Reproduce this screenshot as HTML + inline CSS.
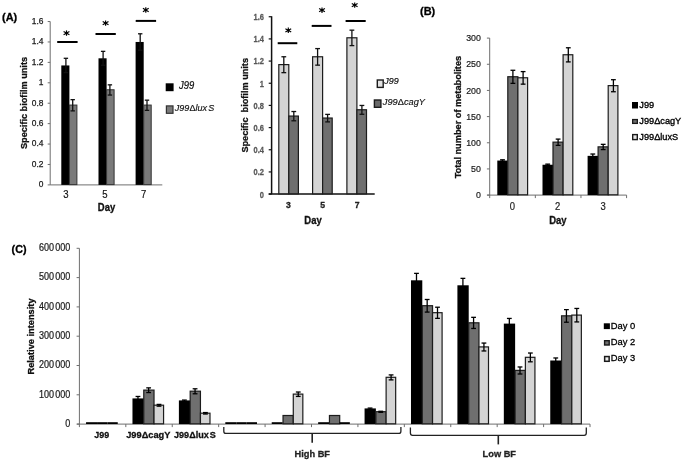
<!DOCTYPE html>
<html><head><meta charset="utf-8"><title>Figure</title>
<style>
html,body{margin:0;padding:0;background:#fff;}
body{width:685px;height:462px;overflow:hidden;}
svg{display:block;font-family:'Liberation Sans', sans-serif;filter:blur(0.4px);}
svg text{font-family:"Liberation Sans", sans-serif;}
</style></head><body>
<svg width="685" height="462" viewBox="0 0 685 462">
<rect x="0" y="0" width="685" height="462" fill="#fff"/>
<line x1="50.20" y1="21.54" x2="50.20" y2="184.90" stroke="#6e6e6e" stroke-width="1"/>
<line x1="50.20" y1="184.90" x2="162.30" y2="184.90" stroke="#6e6e6e" stroke-width="1"/>
<line x1="47.70" y1="184.90" x2="50.20" y2="184.90" stroke="#6e6e6e" stroke-width="1"/>
<text transform="translate(43.50,187.20) scale(1.0,1)" font-size="8.4" text-anchor="end" fill="#1a1a1a" stroke="#1a1a1a" stroke-width="0.25">0</text>
<line x1="47.70" y1="164.48" x2="50.20" y2="164.48" stroke="#6e6e6e" stroke-width="1"/>
<text transform="translate(43.50,166.78) scale(1.0,1)" font-size="8.4" text-anchor="end" fill="#1a1a1a" stroke="#1a1a1a" stroke-width="0.25">0.2</text>
<line x1="47.70" y1="144.06" x2="50.20" y2="144.06" stroke="#6e6e6e" stroke-width="1"/>
<text transform="translate(43.50,146.36) scale(1.0,1)" font-size="8.4" text-anchor="end" fill="#1a1a1a" stroke="#1a1a1a" stroke-width="0.25">0.4</text>
<line x1="47.70" y1="123.64" x2="50.20" y2="123.64" stroke="#6e6e6e" stroke-width="1"/>
<text transform="translate(43.50,125.94) scale(1.0,1)" font-size="8.4" text-anchor="end" fill="#1a1a1a" stroke="#1a1a1a" stroke-width="0.25">0.6</text>
<line x1="47.70" y1="103.22" x2="50.20" y2="103.22" stroke="#6e6e6e" stroke-width="1"/>
<text transform="translate(43.50,105.52) scale(1.0,1)" font-size="8.4" text-anchor="end" fill="#1a1a1a" stroke="#1a1a1a" stroke-width="0.25">0.8</text>
<line x1="47.70" y1="82.80" x2="50.20" y2="82.80" stroke="#6e6e6e" stroke-width="1"/>
<text transform="translate(43.50,85.10) scale(1.0,1)" font-size="8.4" text-anchor="end" fill="#1a1a1a" stroke="#1a1a1a" stroke-width="0.25">1</text>
<line x1="47.70" y1="62.38" x2="50.20" y2="62.38" stroke="#6e6e6e" stroke-width="1"/>
<text transform="translate(43.50,64.68) scale(1.0,1)" font-size="8.4" text-anchor="end" fill="#1a1a1a" stroke="#1a1a1a" stroke-width="0.25">1.2</text>
<line x1="47.70" y1="41.96" x2="50.20" y2="41.96" stroke="#6e6e6e" stroke-width="1"/>
<text transform="translate(43.50,44.26) scale(1.0,1)" font-size="8.4" text-anchor="end" fill="#1a1a1a" stroke="#1a1a1a" stroke-width="0.25">1.4</text>
<line x1="47.70" y1="21.54" x2="50.20" y2="21.54" stroke="#6e6e6e" stroke-width="1"/>
<text transform="translate(43.50,23.84) scale(1.0,1)" font-size="8.4" text-anchor="end" fill="#1a1a1a" stroke="#1a1a1a" stroke-width="0.25">1.6</text>
<rect x="61.30" y="65.44" width="8.10" height="119.46" fill="#000"/>
<rect x="69.40" y="105.06" width="7.50" height="79.54" fill="#7a7a7a" stroke="#333" stroke-width="1"/>
<line x1="65.90" y1="58.30" x2="65.90" y2="72.59" stroke="#111" stroke-width="1.3"/>
<line x1="63.70" y1="58.30" x2="68.10" y2="58.30" stroke="#111" stroke-width="1.3"/>
<line x1="63.70" y1="72.59" x2="68.10" y2="72.59" stroke="#111" stroke-width="1.3"/>
<line x1="72.70" y1="99.65" x2="72.70" y2="110.88" stroke="#111" stroke-width="1.3"/>
<line x1="70.50" y1="99.65" x2="74.90" y2="99.65" stroke="#111" stroke-width="1.3"/>
<line x1="70.50" y1="110.88" x2="74.90" y2="110.88" stroke="#111" stroke-width="1.3"/>
<rect x="98.50" y="58.30" width="8.10" height="126.60" fill="#000"/>
<rect x="106.60" y="89.75" width="7.50" height="94.85" fill="#7a7a7a" stroke="#333" stroke-width="1"/>
<line x1="103.10" y1="51.35" x2="103.10" y2="65.24" stroke="#111" stroke-width="1.3"/>
<line x1="100.90" y1="51.35" x2="105.30" y2="51.35" stroke="#111" stroke-width="1.3"/>
<line x1="100.90" y1="65.24" x2="105.30" y2="65.24" stroke="#111" stroke-width="1.3"/>
<line x1="109.90" y1="84.84" x2="109.90" y2="95.05" stroke="#111" stroke-width="1.3"/>
<line x1="107.70" y1="84.84" x2="112.10" y2="84.84" stroke="#111" stroke-width="1.3"/>
<line x1="107.70" y1="95.05" x2="112.10" y2="95.05" stroke="#111" stroke-width="1.3"/>
<rect x="135.60" y="41.96" width="8.10" height="142.94" fill="#000"/>
<rect x="143.70" y="105.06" width="7.50" height="79.54" fill="#7a7a7a" stroke="#333" stroke-width="1"/>
<line x1="140.20" y1="33.79" x2="140.20" y2="50.13" stroke="#111" stroke-width="1.3"/>
<line x1="138.00" y1="33.79" x2="142.40" y2="33.79" stroke="#111" stroke-width="1.3"/>
<line x1="138.00" y1="50.13" x2="142.40" y2="50.13" stroke="#111" stroke-width="1.3"/>
<line x1="147.00" y1="100.16" x2="147.00" y2="110.37" stroke="#111" stroke-width="1.3"/>
<line x1="144.80" y1="100.16" x2="149.20" y2="100.16" stroke="#111" stroke-width="1.3"/>
<line x1="144.80" y1="110.37" x2="149.20" y2="110.37" stroke="#111" stroke-width="1.3"/>
<line x1="57.20" y1="42.00" x2="77.60" y2="42.00" stroke="#000" stroke-width="2.0"/>
<line x1="66.50" y1="30.40" x2="66.50" y2="35.80" stroke="#000" stroke-width="1.15"/>
<line x1="63.60" y1="31.45" x2="69.40" y2="34.75" stroke="#000" stroke-width="1.15"/>
<line x1="63.60" y1="34.75" x2="69.40" y2="31.45" stroke="#000" stroke-width="1.15"/>
<circle cx="66.50" cy="33.10" r="1.2" fill="#000"/>
<line x1="95.50" y1="34.00" x2="115.80" y2="34.00" stroke="#000" stroke-width="2.0"/>
<line x1="105.60" y1="20.40" x2="105.60" y2="25.80" stroke="#000" stroke-width="1.15"/>
<line x1="102.70" y1="21.45" x2="108.50" y2="24.75" stroke="#000" stroke-width="1.15"/>
<line x1="102.70" y1="24.75" x2="108.50" y2="21.45" stroke="#000" stroke-width="1.15"/>
<circle cx="105.60" cy="23.10" r="1.2" fill="#000"/>
<line x1="135.70" y1="20.90" x2="156.10" y2="20.90" stroke="#000" stroke-width="2.0"/>
<line x1="145.80" y1="7.30" x2="145.80" y2="12.70" stroke="#000" stroke-width="1.15"/>
<line x1="142.90" y1="8.35" x2="148.70" y2="11.65" stroke="#000" stroke-width="1.15"/>
<line x1="142.90" y1="11.65" x2="148.70" y2="8.35" stroke="#000" stroke-width="1.15"/>
<circle cx="145.80" cy="10.00" r="1.2" fill="#000"/>
<text transform="translate(65.90,197.90) scale(0.94,1)" font-size="10.18" font-weight="normal" text-anchor="middle" fill="#111" stroke="#111" stroke-width="0.18" font-style="normal" >3</text>
<text transform="translate(104.80,197.90) scale(0.94,1)" font-size="10.18" font-weight="normal" text-anchor="middle" fill="#111" stroke="#111" stroke-width="0.18" font-style="normal" >5</text>
<text transform="translate(143.70,197.90) scale(0.94,1)" font-size="10.18" font-weight="normal" text-anchor="middle" fill="#111" stroke="#111" stroke-width="0.18" font-style="normal" >7</text>
<text transform="translate(106.50,211.30) scale(0.94,1)" font-size="10.07" font-weight="bold" text-anchor="middle" fill="#111" stroke="#111" stroke-width="0.3" font-style="normal" >Day</text>
<text transform="translate(27.20,103.00) rotate(-90) scale(0.94,1)" font-size="9.75" font-weight="bold" text-anchor="middle" fill="#111" stroke="#111" stroke-width="0.3">Specific biofilm units</text>
<text transform="translate(2.00,21.40) scale(0.94,1)" font-size="11.66" font-weight="bold" text-anchor="start" fill="#000" stroke="#000" stroke-width="0.3" font-style="normal" >(A)</text>
<rect x="165.70" y="83.30" width="7.90" height="7.90" fill="#000"/>
<text transform="translate(179.00,89.00) scale(0.94,1)" font-size="10.07" font-weight="normal" text-anchor="start" fill="#111" stroke="#111" stroke-width="0.18" font-style="italic" >J99</text>
<rect x="166.40" y="105.90" width="6.60" height="7.40" fill="#7a7a7a" stroke="#333" stroke-width="1.2"/>
<text transform="translate(174.8,110.7) scale(0.94,1)" font-size="9.65" fill="#111" stroke="#111" stroke-width="0.15" font-style="italic">J99<tspan font-style="normal">Δ</tspan>lux<tspan dx="1.2">S</tspan></text>
<line x1="271.60" y1="16.24" x2="271.60" y2="194.10" stroke="#111" stroke-width="1.5"/>
<line x1="268.70" y1="194.10" x2="374.70" y2="194.10" stroke="#111" stroke-width="1.5"/>
<line x1="268.70" y1="194.10" x2="271.60" y2="194.10" stroke="#111" stroke-width="1.2"/>
<text transform="translate(264.00,197.50) scale(0.87,1)" font-size="8.6" font-weight="bold" text-anchor="end" fill="#585858" stroke="#585858" stroke-width="0.25">0</text>
<line x1="268.70" y1="171.93" x2="271.60" y2="171.93" stroke="#111" stroke-width="1.2"/>
<text transform="translate(264.00,175.33) scale(0.87,1)" font-size="8.6" font-weight="bold" text-anchor="end" fill="#585858" stroke="#585858" stroke-width="0.25">0.2</text>
<line x1="268.70" y1="149.76" x2="271.60" y2="149.76" stroke="#111" stroke-width="1.2"/>
<text transform="translate(264.00,153.16) scale(0.87,1)" font-size="8.6" font-weight="bold" text-anchor="end" fill="#585858" stroke="#585858" stroke-width="0.25">0.4</text>
<line x1="268.70" y1="127.59" x2="271.60" y2="127.59" stroke="#111" stroke-width="1.2"/>
<text transform="translate(264.00,130.99) scale(0.87,1)" font-size="8.6" font-weight="bold" text-anchor="end" fill="#585858" stroke="#585858" stroke-width="0.25">0.6</text>
<line x1="268.70" y1="105.42" x2="271.60" y2="105.42" stroke="#111" stroke-width="1.2"/>
<text transform="translate(264.00,108.82) scale(0.87,1)" font-size="8.6" font-weight="bold" text-anchor="end" fill="#585858" stroke="#585858" stroke-width="0.25">0.8</text>
<line x1="268.70" y1="83.25" x2="271.60" y2="83.25" stroke="#111" stroke-width="1.2"/>
<text transform="translate(264.00,86.65) scale(0.87,1)" font-size="8.6" font-weight="bold" text-anchor="end" fill="#585858" stroke="#585858" stroke-width="0.25">1</text>
<line x1="268.70" y1="61.08" x2="271.60" y2="61.08" stroke="#111" stroke-width="1.2"/>
<text transform="translate(264.00,64.48) scale(0.87,1)" font-size="8.6" font-weight="bold" text-anchor="end" fill="#585858" stroke="#585858" stroke-width="0.25">1.2</text>
<line x1="268.70" y1="38.91" x2="271.60" y2="38.91" stroke="#111" stroke-width="1.2"/>
<text transform="translate(264.00,42.31) scale(0.87,1)" font-size="8.6" font-weight="bold" text-anchor="end" fill="#585858" stroke="#585858" stroke-width="0.25">1.4</text>
<line x1="268.70" y1="16.74" x2="271.60" y2="16.74" stroke="#111" stroke-width="1.2"/>
<text transform="translate(264.00,20.14) scale(0.87,1)" font-size="8.6" font-weight="bold" text-anchor="end" fill="#585858" stroke="#585858" stroke-width="0.25">1.6</text>
<rect x="278.80" y="64.61" width="10.00" height="129.19" fill="#d4d4d4" stroke="#1c1c1c" stroke-width="1.2"/>
<rect x="288.80" y="116.06" width="9.60" height="77.74" fill="#6f6f6f" stroke="#1c1c1c" stroke-width="1.2"/>
<line x1="283.80" y1="56.76" x2="283.80" y2="72.66" stroke="#111" stroke-width="1.3"/>
<line x1="281.40" y1="56.76" x2="286.20" y2="56.76" stroke="#111" stroke-width="1.3"/>
<line x1="281.40" y1="72.66" x2="286.20" y2="72.66" stroke="#111" stroke-width="1.3"/>
<line x1="293.80" y1="111.52" x2="293.80" y2="120.79" stroke="#111" stroke-width="1.3"/>
<line x1="291.40" y1="111.52" x2="296.20" y2="111.52" stroke="#111" stroke-width="1.3"/>
<line x1="291.40" y1="120.79" x2="296.20" y2="120.79" stroke="#111" stroke-width="1.3"/>
<rect x="312.60" y="56.77" width="10.00" height="137.03" fill="#d4d4d4" stroke="#1c1c1c" stroke-width="1.2"/>
<rect x="322.60" y="118.04" width="9.60" height="75.76" fill="#6f6f6f" stroke="#1c1c1c" stroke-width="1.2"/>
<line x1="317.60" y1="48.59" x2="317.60" y2="65.15" stroke="#111" stroke-width="1.3"/>
<line x1="315.20" y1="48.59" x2="320.00" y2="48.59" stroke="#111" stroke-width="1.3"/>
<line x1="315.20" y1="65.15" x2="320.00" y2="65.15" stroke="#111" stroke-width="1.3"/>
<line x1="327.60" y1="114.39" x2="327.60" y2="121.90" stroke="#111" stroke-width="1.3"/>
<line x1="325.20" y1="114.39" x2="330.00" y2="114.39" stroke="#111" stroke-width="1.3"/>
<line x1="325.20" y1="121.90" x2="330.00" y2="121.90" stroke="#111" stroke-width="1.3"/>
<rect x="346.90" y="37.78" width="10.00" height="156.02" fill="#d4d4d4" stroke="#1c1c1c" stroke-width="1.2"/>
<rect x="356.90" y="109.76" width="9.60" height="84.04" fill="#6f6f6f" stroke="#1c1c1c" stroke-width="1.2"/>
<line x1="351.90" y1="30.16" x2="351.90" y2="45.61" stroke="#111" stroke-width="1.3"/>
<line x1="349.50" y1="30.16" x2="354.30" y2="30.16" stroke="#111" stroke-width="1.3"/>
<line x1="349.50" y1="45.61" x2="354.30" y2="45.61" stroke="#111" stroke-width="1.3"/>
<line x1="361.90" y1="105.45" x2="361.90" y2="114.28" stroke="#111" stroke-width="1.3"/>
<line x1="359.50" y1="105.45" x2="364.30" y2="105.45" stroke="#111" stroke-width="1.3"/>
<line x1="359.50" y1="114.28" x2="364.30" y2="114.28" stroke="#111" stroke-width="1.3"/>
<line x1="277.70" y1="43.20" x2="297.30" y2="43.20" stroke="#000" stroke-width="2.0"/>
<line x1="288.30" y1="27.60" x2="288.30" y2="33.00" stroke="#000" stroke-width="1.15"/>
<line x1="285.40" y1="28.65" x2="291.20" y2="31.95" stroke="#000" stroke-width="1.15"/>
<line x1="285.40" y1="31.95" x2="291.20" y2="28.65" stroke="#000" stroke-width="1.15"/>
<circle cx="288.30" cy="30.30" r="1.2" fill="#000"/>
<line x1="311.70" y1="25.90" x2="331.50" y2="25.90" stroke="#000" stroke-width="2.0"/>
<line x1="322.00" y1="7.50" x2="322.00" y2="12.90" stroke="#000" stroke-width="1.15"/>
<line x1="319.10" y1="8.55" x2="324.90" y2="11.85" stroke="#000" stroke-width="1.15"/>
<line x1="319.10" y1="11.85" x2="324.90" y2="8.55" stroke="#000" stroke-width="1.15"/>
<circle cx="322.00" cy="10.20" r="1.2" fill="#000"/>
<line x1="345.60" y1="21.00" x2="365.70" y2="21.00" stroke="#000" stroke-width="2.0"/>
<line x1="354.70" y1="2.40" x2="354.70" y2="7.80" stroke="#000" stroke-width="1.15"/>
<line x1="351.80" y1="3.45" x2="357.60" y2="6.75" stroke="#000" stroke-width="1.15"/>
<line x1="351.80" y1="6.75" x2="357.60" y2="3.45" stroke="#000" stroke-width="1.15"/>
<circle cx="354.70" cy="5.10" r="1.2" fill="#000"/>
<text transform="translate(288.50,208.00) scale(0.94,1)" font-size="9.22" font-weight="bold" text-anchor="middle" fill="#222" stroke="#222" stroke-width="0.3" font-style="normal" >3</text>
<text transform="translate(322.70,208.00) scale(0.94,1)" font-size="9.22" font-weight="bold" text-anchor="middle" fill="#222" stroke="#222" stroke-width="0.3" font-style="normal" >5</text>
<text transform="translate(357.10,208.00) scale(0.94,1)" font-size="9.22" font-weight="bold" text-anchor="middle" fill="#222" stroke="#222" stroke-width="0.3" font-style="normal" >7</text>
<text transform="translate(313.00,223.50) scale(0.94,1)" font-size="10.07" font-weight="bold" text-anchor="middle" fill="#111" stroke="#111" stroke-width="0.3" font-style="normal" >Day</text>
<text transform="translate(248.30,105.30) rotate(-90) scale(0.94,1)" font-size="9.75" font-weight="bold" text-anchor="middle" fill="#111" stroke="#111" stroke-width="0.3">Specific&#160;&#160;biofilm units</text>
<rect x="377.30" y="80.00" width="5.90" height="7.40" fill="#e2e2e2" stroke="#1a1a1a" stroke-width="1.4"/>
<text transform="translate(384.30,84.20) scale(0.94,1)" font-size="9.54" font-weight="normal" text-anchor="start" fill="#111" stroke="#111" stroke-width="0.18" font-style="italic" >J99</text>
<rect x="374.40" y="100.00" width="6.50" height="7.30" fill="#6a6a6a" stroke="#1a1a1a" stroke-width="1.4"/>
<text transform="translate(382.8,105.1) scale(0.94,1)" font-size="9.86" fill="#111" stroke="#111" stroke-width="0.15" font-style="italic">J99<tspan font-style="normal">Δ</tspan>cagY</text>
<line x1="489.70" y1="38.10" x2="489.70" y2="198.10" stroke="#6e6e6e" stroke-width="1"/>
<line x1="487.20" y1="195.10" x2="626.59" y2="195.10" stroke="#6e6e6e" stroke-width="1"/>
<line x1="486.90" y1="195.10" x2="489.70" y2="195.10" stroke="#6e6e6e" stroke-width="1"/>
<text transform="translate(480.90,198.25) scale(0.89,1)" font-size="9.9" text-anchor="end" fill="#1a1a1a" stroke="#1a1a1a" stroke-width="0.22">0</text>
<line x1="486.90" y1="168.93" x2="489.70" y2="168.93" stroke="#6e6e6e" stroke-width="1"/>
<text transform="translate(480.90,172.08) scale(0.89,1)" font-size="9.9" text-anchor="end" fill="#1a1a1a" stroke="#1a1a1a" stroke-width="0.22">50</text>
<line x1="486.90" y1="142.77" x2="489.70" y2="142.77" stroke="#6e6e6e" stroke-width="1"/>
<text transform="translate(480.90,145.92) scale(0.89,1)" font-size="9.9" text-anchor="end" fill="#1a1a1a" stroke="#1a1a1a" stroke-width="0.22">100</text>
<line x1="486.90" y1="116.60" x2="489.70" y2="116.60" stroke="#6e6e6e" stroke-width="1"/>
<text transform="translate(480.90,119.75) scale(0.89,1)" font-size="9.9" text-anchor="end" fill="#1a1a1a" stroke="#1a1a1a" stroke-width="0.22">150</text>
<line x1="486.90" y1="90.43" x2="489.70" y2="90.43" stroke="#6e6e6e" stroke-width="1"/>
<text transform="translate(480.90,93.58) scale(0.89,1)" font-size="9.9" text-anchor="end" fill="#1a1a1a" stroke="#1a1a1a" stroke-width="0.22">200</text>
<line x1="486.90" y1="64.27" x2="489.70" y2="64.27" stroke="#6e6e6e" stroke-width="1"/>
<text transform="translate(480.90,67.42) scale(0.89,1)" font-size="9.9" text-anchor="end" fill="#1a1a1a" stroke="#1a1a1a" stroke-width="0.22">250</text>
<line x1="486.90" y1="38.10" x2="489.70" y2="38.10" stroke="#6e6e6e" stroke-width="1"/>
<text transform="translate(480.90,41.25) scale(0.89,1)" font-size="9.9" text-anchor="end" fill="#1a1a1a" stroke="#1a1a1a" stroke-width="0.22">300</text>
<line x1="535.33" y1="195.10" x2="535.33" y2="198.10" stroke="#6e6e6e" stroke-width="1"/>
<line x1="580.96" y1="195.10" x2="580.96" y2="198.10" stroke="#6e6e6e" stroke-width="1"/>
<line x1="626.59" y1="195.10" x2="626.59" y2="198.10" stroke="#6e6e6e" stroke-width="1"/>
<rect x="497.30" y="160.56" width="10.50" height="34.54" fill="#000"/>
<rect x="507.80" y="76.73" width="10.10" height="118.07" fill="#6f6f6f" stroke="#1c1c1c" stroke-width="1.2"/>
<rect x="517.90" y="77.77" width="9.70" height="117.03" fill="#d4d4d4" stroke="#1c1c1c" stroke-width="1.2"/>
<line x1="502.50" y1="159.78" x2="502.50" y2="161.34" stroke="#000" stroke-width="1.3"/>
<line x1="500.10" y1="159.78" x2="504.90" y2="159.78" stroke="#000" stroke-width="1.3"/>
<line x1="500.10" y1="161.34" x2="504.90" y2="161.34" stroke="#000" stroke-width="1.3"/>
<line x1="512.90" y1="70.28" x2="512.90" y2="83.37" stroke="#000" stroke-width="1.3"/>
<line x1="510.50" y1="70.28" x2="515.30" y2="70.28" stroke="#000" stroke-width="1.3"/>
<line x1="510.50" y1="83.37" x2="515.30" y2="83.37" stroke="#000" stroke-width="1.3"/>
<line x1="523.10" y1="71.59" x2="523.10" y2="84.15" stroke="#000" stroke-width="1.3"/>
<line x1="520.70" y1="71.59" x2="525.50" y2="71.59" stroke="#000" stroke-width="1.3"/>
<line x1="520.70" y1="84.15" x2="525.50" y2="84.15" stroke="#000" stroke-width="1.3"/>
<rect x="542.50" y="164.75" width="10.50" height="30.35" fill="#000"/>
<rect x="553.00" y="142.14" width="10.10" height="52.66" fill="#6f6f6f" stroke="#1c1c1c" stroke-width="1.2"/>
<rect x="563.10" y="54.75" width="9.70" height="140.05" fill="#d4d4d4" stroke="#1c1c1c" stroke-width="1.2"/>
<line x1="547.70" y1="164.12" x2="547.70" y2="165.37" stroke="#000" stroke-width="1.3"/>
<line x1="545.30" y1="164.12" x2="550.10" y2="164.12" stroke="#000" stroke-width="1.3"/>
<line x1="545.30" y1="165.37" x2="550.10" y2="165.37" stroke="#000" stroke-width="1.3"/>
<line x1="558.10" y1="139.10" x2="558.10" y2="145.38" stroke="#000" stroke-width="1.3"/>
<line x1="555.70" y1="139.10" x2="560.50" y2="139.10" stroke="#000" stroke-width="1.3"/>
<line x1="555.70" y1="145.38" x2="560.50" y2="145.38" stroke="#000" stroke-width="1.3"/>
<line x1="568.30" y1="47.78" x2="568.30" y2="61.91" stroke="#000" stroke-width="1.3"/>
<line x1="565.90" y1="47.78" x2="570.70" y2="47.78" stroke="#000" stroke-width="1.3"/>
<line x1="565.90" y1="61.91" x2="570.70" y2="61.91" stroke="#000" stroke-width="1.3"/>
<rect x="587.60" y="155.85" width="10.50" height="39.25" fill="#000"/>
<rect x="598.10" y="146.85" width="10.10" height="47.95" fill="#6f6f6f" stroke="#1c1c1c" stroke-width="1.2"/>
<rect x="608.20" y="85.62" width="9.70" height="109.18" fill="#d4d4d4" stroke="#1c1c1c" stroke-width="1.2"/>
<line x1="592.80" y1="154.02" x2="592.80" y2="157.68" stroke="#000" stroke-width="1.3"/>
<line x1="590.40" y1="154.02" x2="595.20" y2="154.02" stroke="#000" stroke-width="1.3"/>
<line x1="590.40" y1="157.68" x2="595.20" y2="157.68" stroke="#000" stroke-width="1.3"/>
<line x1="603.20" y1="144.34" x2="603.20" y2="149.57" stroke="#000" stroke-width="1.3"/>
<line x1="600.80" y1="144.34" x2="605.60" y2="144.34" stroke="#000" stroke-width="1.3"/>
<line x1="600.80" y1="149.57" x2="605.60" y2="149.57" stroke="#000" stroke-width="1.3"/>
<line x1="613.40" y1="79.70" x2="613.40" y2="91.74" stroke="#000" stroke-width="1.3"/>
<line x1="611.00" y1="79.70" x2="615.80" y2="79.70" stroke="#000" stroke-width="1.3"/>
<line x1="611.00" y1="91.74" x2="615.80" y2="91.74" stroke="#000" stroke-width="1.3"/>
<text transform="translate(512.30,210.40) scale(0.94,1)" font-size="10.07" font-weight="normal" text-anchor="middle" fill="#222" stroke="#222" stroke-width="0.18" font-style="normal" >0</text>
<text transform="translate(557.60,210.40) scale(0.94,1)" font-size="10.07" font-weight="normal" text-anchor="middle" fill="#222" stroke="#222" stroke-width="0.18" font-style="normal" >2</text>
<text transform="translate(603.20,210.40) scale(0.94,1)" font-size="10.07" font-weight="normal" text-anchor="middle" fill="#222" stroke="#222" stroke-width="0.18" font-style="normal" >3</text>
<text transform="translate(557.80,224.00) scale(0.94,1)" font-size="10.07" font-weight="bold" text-anchor="middle" fill="#111" stroke="#111" stroke-width="0.3" font-style="normal" >Day</text>
<text transform="translate(461.40,117.10) rotate(-90) scale(0.94,1)" font-size="9.80" font-weight="bold" text-anchor="middle" fill="#111" stroke="#111" stroke-width="0.3">Total number of metabolites</text>
<text transform="translate(420.00,14.60) scale(0.94,1)" font-size="11.66" font-weight="bold" text-anchor="start" fill="#000" stroke="#000" stroke-width="0.3" font-style="normal" >(B)</text>
<rect x="632.00" y="102.00" width="6.00" height="6.50" fill="#000"/>
<text transform="translate(639.30,107.80) scale(0.94,1)" font-size="9.80" font-weight="normal" text-anchor="start" fill="#000" stroke="#000"  font-style="normal" stroke-width="0.35">J99</text>
<rect x="632.65" y="119.55" width="4.70" height="3.85" fill="#6f6f6f" stroke="#1a1a1a" stroke-width="1.3"/>
<text transform="translate(639.30,124.00) scale(0.94,1)" font-size="9.80" font-weight="normal" text-anchor="start" fill="#000" stroke="#000"  font-style="normal" stroke-width="0.35">J99ΔcagY</text>
<rect x="632.70" y="134.60" width="4.60" height="5.00" fill="#e4e4e4" stroke="#1a1a1a" stroke-width="1.4"/>
<text transform="translate(639.30,139.80) scale(0.94,1)" font-size="9.80" font-weight="normal" text-anchor="start" fill="#000" stroke="#000"  font-style="normal" stroke-width="0.35">J99ΔluxS</text>
<line x1="79.40" y1="248.30" x2="79.40" y2="427.10" stroke="#6e6e6e" stroke-width="1"/>
<line x1="76.90" y1="424.10" x2="590.02" y2="424.10" stroke="#6e6e6e" stroke-width="1"/>
<line x1="76.60" y1="424.10" x2="79.40" y2="424.10" stroke="#6e6e6e" stroke-width="1"/>
<text transform="translate(70.40,426.95) scale(0.905,1)" font-size="10.0" text-anchor="end" fill="#1a1a1a" stroke="#1a1a1a" stroke-width="0.22">0</text>
<line x1="76.60" y1="394.80" x2="79.40" y2="394.80" stroke="#6e6e6e" stroke-width="1"/>
<text transform="translate(70.40,397.65) scale(0.905,1)" font-size="10.0" text-anchor="end" fill="#1a1a1a" stroke="#1a1a1a" stroke-width="0.22">100<tspan dx="1.4">000</tspan></text>
<line x1="76.60" y1="365.50" x2="79.40" y2="365.50" stroke="#6e6e6e" stroke-width="1"/>
<text transform="translate(70.40,368.35) scale(0.905,1)" font-size="10.0" text-anchor="end" fill="#1a1a1a" stroke="#1a1a1a" stroke-width="0.22">200<tspan dx="1.4">000</tspan></text>
<line x1="76.60" y1="336.20" x2="79.40" y2="336.20" stroke="#6e6e6e" stroke-width="1"/>
<text transform="translate(70.40,339.05) scale(0.905,1)" font-size="10.0" text-anchor="end" fill="#1a1a1a" stroke="#1a1a1a" stroke-width="0.22">300<tspan dx="1.4">000</tspan></text>
<line x1="76.60" y1="306.90" x2="79.40" y2="306.90" stroke="#6e6e6e" stroke-width="1"/>
<text transform="translate(70.40,309.75) scale(0.905,1)" font-size="10.0" text-anchor="end" fill="#1a1a1a" stroke="#1a1a1a" stroke-width="0.22">400<tspan dx="1.4">000</tspan></text>
<line x1="76.60" y1="277.60" x2="79.40" y2="277.60" stroke="#6e6e6e" stroke-width="1"/>
<text transform="translate(70.40,280.45) scale(0.905,1)" font-size="10.0" text-anchor="end" fill="#1a1a1a" stroke="#1a1a1a" stroke-width="0.22">500<tspan dx="1.4">000</tspan></text>
<line x1="76.60" y1="248.30" x2="79.40" y2="248.30" stroke="#6e6e6e" stroke-width="1"/>
<text transform="translate(70.40,251.15) scale(0.905,1)" font-size="10.0" text-anchor="end" fill="#1a1a1a" stroke="#1a1a1a" stroke-width="0.22">600<tspan dx="1.4">000</tspan></text>
<line x1="125.82" y1="424.10" x2="125.82" y2="427.10" stroke="#6e6e6e" stroke-width="1"/>
<line x1="172.24" y1="424.10" x2="172.24" y2="427.10" stroke="#6e6e6e" stroke-width="1"/>
<line x1="218.66" y1="424.10" x2="218.66" y2="427.10" stroke="#6e6e6e" stroke-width="1"/>
<line x1="265.08" y1="424.10" x2="265.08" y2="427.10" stroke="#6e6e6e" stroke-width="1"/>
<line x1="311.50" y1="424.10" x2="311.50" y2="427.10" stroke="#6e6e6e" stroke-width="1"/>
<line x1="357.92" y1="424.10" x2="357.92" y2="427.10" stroke="#6e6e6e" stroke-width="1"/>
<line x1="404.34" y1="424.10" x2="404.34" y2="427.10" stroke="#6e6e6e" stroke-width="1"/>
<line x1="450.76" y1="424.10" x2="450.76" y2="427.10" stroke="#6e6e6e" stroke-width="1"/>
<line x1="497.18" y1="424.10" x2="497.18" y2="427.10" stroke="#6e6e6e" stroke-width="1"/>
<line x1="543.60" y1="424.10" x2="543.60" y2="427.10" stroke="#6e6e6e" stroke-width="1"/>
<line x1="590.02" y1="424.10" x2="590.02" y2="427.10" stroke="#6e6e6e" stroke-width="1"/>
<line x1="86.05" y1="423.10" x2="97.05" y2="423.10" stroke="#000" stroke-width="1.8"/>
<line x1="97.05" y1="423.10" x2="107.40" y2="423.10" stroke="#000" stroke-width="1.8"/>
<line x1="107.40" y1="423.10" x2="117.75" y2="423.10" stroke="#000" stroke-width="1.8"/>
<rect x="132.47" y="398.41" width="11.30" height="25.69" fill="#000"/>
<line x1="137.97" y1="396.47" x2="137.97" y2="401.16" stroke="#000" stroke-width="1.3"/>
<line x1="135.57" y1="396.47" x2="140.37" y2="396.47" stroke="#000" stroke-width="1.3"/>
<line x1="135.57" y1="401.16" x2="140.37" y2="401.16" stroke="#000" stroke-width="1.3"/>
<rect x="143.77" y="390.10" width="10.25" height="33.70" fill="#6f6f6f" stroke="#1c1c1c" stroke-width="1.2"/>
<line x1="148.64" y1="387.86" x2="148.64" y2="392.54" stroke="#000" stroke-width="1.3"/>
<line x1="146.24" y1="387.86" x2="151.04" y2="387.86" stroke="#000" stroke-width="1.3"/>
<line x1="146.24" y1="392.54" x2="151.04" y2="392.54" stroke="#000" stroke-width="1.3"/>
<rect x="154.02" y="405.19" width="9.55" height="18.61" fill="#d4d4d4" stroke="#1c1c1c" stroke-width="1.2"/>
<line x1="159.00" y1="404.41" x2="159.00" y2="406.17" stroke="#000" stroke-width="1.3"/>
<line x1="156.59" y1="404.41" x2="161.40" y2="404.41" stroke="#000" stroke-width="1.3"/>
<line x1="156.59" y1="406.17" x2="161.40" y2="406.17" stroke="#000" stroke-width="1.3"/>
<rect x="178.89" y="400.41" width="11.30" height="23.69" fill="#000"/>
<line x1="184.39" y1="400.07" x2="184.39" y2="401.54" stroke="#000" stroke-width="1.3"/>
<line x1="181.99" y1="400.07" x2="186.79" y2="400.07" stroke="#000" stroke-width="1.3"/>
<line x1="181.99" y1="401.54" x2="186.79" y2="401.54" stroke="#000" stroke-width="1.3"/>
<rect x="190.19" y="391.18" width="10.25" height="32.62" fill="#6f6f6f" stroke="#1c1c1c" stroke-width="1.2"/>
<line x1="195.06" y1="388.79" x2="195.06" y2="393.77" stroke="#000" stroke-width="1.3"/>
<line x1="192.66" y1="388.79" x2="197.47" y2="388.79" stroke="#000" stroke-width="1.3"/>
<line x1="192.66" y1="393.77" x2="197.47" y2="393.77" stroke="#000" stroke-width="1.3"/>
<rect x="200.44" y="413.19" width="9.55" height="10.61" fill="#d4d4d4" stroke="#1c1c1c" stroke-width="1.2"/>
<line x1="205.42" y1="412.56" x2="205.42" y2="414.02" stroke="#000" stroke-width="1.3"/>
<line x1="203.02" y1="412.56" x2="207.82" y2="412.56" stroke="#000" stroke-width="1.3"/>
<line x1="203.02" y1="414.02" x2="207.82" y2="414.02" stroke="#000" stroke-width="1.3"/>
<line x1="225.31" y1="423.10" x2="236.31" y2="423.10" stroke="#000" stroke-width="1.8"/>
<line x1="236.31" y1="423.10" x2="246.66" y2="423.10" stroke="#000" stroke-width="1.8"/>
<line x1="246.66" y1="423.10" x2="257.01" y2="423.10" stroke="#000" stroke-width="1.8"/>
<line x1="271.73" y1="423.10" x2="282.73" y2="423.10" stroke="#000" stroke-width="1.8"/>
<rect x="283.03" y="415.50" width="10.25" height="8.30" fill="#6f6f6f" stroke="#1c1c1c" stroke-width="1.2"/>
<rect x="293.28" y="394.11" width="9.55" height="29.69" fill="#d4d4d4" stroke="#1c1c1c" stroke-width="1.2"/>
<line x1="298.25" y1="392.02" x2="298.25" y2="396.41" stroke="#000" stroke-width="1.3"/>
<line x1="295.86" y1="392.02" x2="300.65" y2="392.02" stroke="#000" stroke-width="1.3"/>
<line x1="295.86" y1="396.41" x2="300.65" y2="396.41" stroke="#000" stroke-width="1.3"/>
<line x1="318.15" y1="423.10" x2="329.15" y2="423.10" stroke="#000" stroke-width="1.8"/>
<rect x="329.45" y="415.50" width="10.25" height="8.30" fill="#6f6f6f" stroke="#1c1c1c" stroke-width="1.2"/>
<line x1="339.50" y1="423.10" x2="349.85" y2="423.10" stroke="#000" stroke-width="1.8"/>
<rect x="364.57" y="408.41" width="11.30" height="15.69" fill="#000"/>
<line x1="370.07" y1="408.07" x2="370.07" y2="409.54" stroke="#000" stroke-width="1.3"/>
<line x1="367.67" y1="408.07" x2="372.47" y2="408.07" stroke="#000" stroke-width="1.3"/>
<line x1="367.67" y1="409.54" x2="372.47" y2="409.54" stroke="#000" stroke-width="1.3"/>
<rect x="375.87" y="411.69" width="10.25" height="12.11" fill="#6f6f6f" stroke="#1c1c1c" stroke-width="1.2"/>
<line x1="380.74" y1="411.27" x2="380.74" y2="412.32" stroke="#000" stroke-width="1.3"/>
<line x1="378.34" y1="411.27" x2="383.14" y2="411.27" stroke="#000" stroke-width="1.3"/>
<line x1="378.34" y1="412.32" x2="383.14" y2="412.32" stroke="#000" stroke-width="1.3"/>
<rect x="386.12" y="377.30" width="9.55" height="46.50" fill="#d4d4d4" stroke="#1c1c1c" stroke-width="1.2"/>
<line x1="391.09" y1="374.91" x2="391.09" y2="379.89" stroke="#000" stroke-width="1.3"/>
<line x1="388.69" y1="374.91" x2="393.49" y2="374.91" stroke="#000" stroke-width="1.3"/>
<line x1="388.69" y1="379.89" x2="393.49" y2="379.89" stroke="#000" stroke-width="1.3"/>
<rect x="410.99" y="280.31" width="11.30" height="143.79" fill="#000"/>
<line x1="416.49" y1="273.38" x2="416.49" y2="288.03" stroke="#000" stroke-width="1.3"/>
<line x1="414.09" y1="273.38" x2="418.89" y2="273.38" stroke="#000" stroke-width="1.3"/>
<line x1="414.09" y1="288.03" x2="418.89" y2="288.03" stroke="#000" stroke-width="1.3"/>
<rect x="422.29" y="305.69" width="10.25" height="118.11" fill="#6f6f6f" stroke="#1c1c1c" stroke-width="1.2"/>
<line x1="427.17" y1="299.49" x2="427.17" y2="312.09" stroke="#000" stroke-width="1.3"/>
<line x1="424.77" y1="299.49" x2="429.56" y2="299.49" stroke="#000" stroke-width="1.3"/>
<line x1="424.77" y1="312.09" x2="429.56" y2="312.09" stroke="#000" stroke-width="1.3"/>
<rect x="432.54" y="312.69" width="9.55" height="111.11" fill="#d4d4d4" stroke="#1c1c1c" stroke-width="1.2"/>
<line x1="437.51" y1="307.22" x2="437.51" y2="318.36" stroke="#000" stroke-width="1.3"/>
<line x1="435.12" y1="307.22" x2="439.91" y2="307.22" stroke="#000" stroke-width="1.3"/>
<line x1="435.12" y1="318.36" x2="439.91" y2="318.36" stroke="#000" stroke-width="1.3"/>
<rect x="457.41" y="285.29" width="11.30" height="138.81" fill="#000"/>
<line x1="462.91" y1="278.36" x2="462.91" y2="293.01" stroke="#000" stroke-width="1.3"/>
<line x1="460.51" y1="278.36" x2="465.31" y2="278.36" stroke="#000" stroke-width="1.3"/>
<line x1="460.51" y1="293.01" x2="465.31" y2="293.01" stroke="#000" stroke-width="1.3"/>
<rect x="468.71" y="322.80" width="10.25" height="101.00" fill="#6f6f6f" stroke="#1c1c1c" stroke-width="1.2"/>
<line x1="473.58" y1="317.33" x2="473.58" y2="328.46" stroke="#000" stroke-width="1.3"/>
<line x1="471.19" y1="317.33" x2="475.98" y2="317.33" stroke="#000" stroke-width="1.3"/>
<line x1="471.19" y1="328.46" x2="475.98" y2="328.46" stroke="#000" stroke-width="1.3"/>
<rect x="478.96" y="346.91" width="9.55" height="76.89" fill="#d4d4d4" stroke="#1c1c1c" stroke-width="1.2"/>
<line x1="483.93" y1="343.06" x2="483.93" y2="350.97" stroke="#000" stroke-width="1.3"/>
<line x1="481.53" y1="343.06" x2="486.33" y2="343.06" stroke="#000" stroke-width="1.3"/>
<line x1="481.53" y1="350.97" x2="486.33" y2="350.97" stroke="#000" stroke-width="1.3"/>
<rect x="503.83" y="323.61" width="11.30" height="100.49" fill="#000"/>
<line x1="509.33" y1="318.44" x2="509.33" y2="329.58" stroke="#000" stroke-width="1.3"/>
<line x1="506.93" y1="318.44" x2="511.73" y2="318.44" stroke="#000" stroke-width="1.3"/>
<line x1="506.93" y1="329.58" x2="511.73" y2="329.58" stroke="#000" stroke-width="1.3"/>
<rect x="515.13" y="370.38" width="10.25" height="53.42" fill="#6f6f6f" stroke="#1c1c1c" stroke-width="1.2"/>
<line x1="520.01" y1="366.97" x2="520.01" y2="374.00" stroke="#000" stroke-width="1.3"/>
<line x1="517.61" y1="366.97" x2="522.41" y2="366.97" stroke="#000" stroke-width="1.3"/>
<line x1="517.61" y1="374.00" x2="522.41" y2="374.00" stroke="#000" stroke-width="1.3"/>
<rect x="525.38" y="357.31" width="9.55" height="66.49" fill="#d4d4d4" stroke="#1c1c1c" stroke-width="1.2"/>
<line x1="530.36" y1="353.02" x2="530.36" y2="361.81" stroke="#000" stroke-width="1.3"/>
<line x1="527.96" y1="353.02" x2="532.75" y2="353.02" stroke="#000" stroke-width="1.3"/>
<line x1="527.96" y1="361.81" x2="532.75" y2="361.81" stroke="#000" stroke-width="1.3"/>
<rect x="550.25" y="360.50" width="11.30" height="63.60" fill="#000"/>
<line x1="555.75" y1="357.97" x2="555.75" y2="363.83" stroke="#000" stroke-width="1.3"/>
<line x1="553.35" y1="357.97" x2="558.15" y2="357.97" stroke="#000" stroke-width="1.3"/>
<line x1="553.35" y1="363.83" x2="558.15" y2="363.83" stroke="#000" stroke-width="1.3"/>
<rect x="561.55" y="315.82" width="10.25" height="107.98" fill="#6f6f6f" stroke="#1c1c1c" stroke-width="1.2"/>
<line x1="566.42" y1="309.62" x2="566.42" y2="322.22" stroke="#000" stroke-width="1.3"/>
<line x1="564.02" y1="309.62" x2="568.82" y2="309.62" stroke="#000" stroke-width="1.3"/>
<line x1="564.02" y1="322.22" x2="568.82" y2="322.22" stroke="#000" stroke-width="1.3"/>
<rect x="571.80" y="315.09" width="9.55" height="108.71" fill="#d4d4d4" stroke="#1c1c1c" stroke-width="1.2"/>
<line x1="576.78" y1="308.45" x2="576.78" y2="321.93" stroke="#000" stroke-width="1.3"/>
<line x1="574.38" y1="308.45" x2="579.18" y2="308.45" stroke="#000" stroke-width="1.3"/>
<line x1="574.38" y1="321.93" x2="579.18" y2="321.93" stroke="#000" stroke-width="1.3"/>
<text transform="translate(101.80,438.20) scale(0.94,1)" font-size="9.54" font-weight="bold" text-anchor="middle" fill="#111" stroke="#111" stroke-width="0.3" font-style="normal" >J99</text>
<text transform="translate(148.30,438.10) scale(0.94,1)" font-size="9.86" font-weight="bold" text-anchor="middle" fill="#111" stroke="#111" stroke-width="0.3" font-style="normal" >J99ΔcagY</text>
<text transform="translate(174,438.1) scale(0.94,1)" font-size="9.65" font-weight="bold" fill="#111" stroke="#111" stroke-width="0.3">J99Δlux<tspan dx="1.0">S</tspan></text>
<text transform="translate(34.40,336.50) rotate(-90) scale(0.94,1)" font-size="9.86" font-weight="bold" text-anchor="middle" fill="#111" stroke="#111" stroke-width="0.3">Relative intensity</text>
<text transform="translate(11.60,253.40) scale(0.94,1)" font-size="11.45" font-weight="bold" text-anchor="start" fill="#000" stroke="#000" stroke-width="0.3" font-style="normal" >(C)</text>
<path d="M223.80,426.90 V431.20 Q223.80,433.40 226.00,433.40 H398.70 Q400.90,433.40 400.90,431.20 V426.90" fill="none" stroke="#222" stroke-width="1.3"/>
<line x1="312.20" y1="433.40" x2="312.20" y2="442.70" stroke="#222" stroke-width="1.6"/>
<path d="M410.40,427.50 V433.10 Q410.40,435.30 412.60,435.30 H584.10 Q586.30,435.30 586.30,433.10 V427.50" fill="none" stroke="#222" stroke-width="1.3"/>
<line x1="498.30" y1="435.30" x2="498.30" y2="444.40" stroke="#222" stroke-width="1.6"/>
<text transform="translate(312.30,457.20) scale(0.94,1)" font-size="9.86" font-weight="bold" text-anchor="middle" fill="#222" stroke="#222" stroke-width="0.3" font-style="normal" >High BF</text>
<text transform="translate(499.30,457.20) scale(0.94,1)" font-size="9.86" font-weight="bold" text-anchor="middle" fill="#222" stroke="#222" stroke-width="0.3" font-style="normal" >Low BF</text>
<rect x="603.80" y="323.30" width="6.10" height="5.80" fill="#000"/>
<text transform="translate(610.80,329.30) scale(0.94,1)" font-size="9.99" font-weight="normal" text-anchor="start" fill="#000" stroke="#000"  font-style="normal" stroke-width="0.3">Day 0</text>
<rect x="604.60" y="340.70" width="4.60" height="4.30" fill="#6f6f6f" stroke="#1a1a1a" stroke-width="1.4"/>
<text transform="translate(610.80,345.40) scale(0.94,1)" font-size="9.99" font-weight="normal" text-anchor="start" fill="#000" stroke="#000"  font-style="normal" stroke-width="0.3">Day 2</text>
<rect x="604.65" y="356.55" width="4.50" height="4.75" fill="#ececec" stroke="#1a1a1a" stroke-width="1.5"/>
<text transform="translate(610.80,360.60) scale(0.94,1)" font-size="9.99" font-weight="normal" text-anchor="start" fill="#000" stroke="#000"  font-style="normal" stroke-width="0.3">Day 3</text>
</svg>
</body></html>
